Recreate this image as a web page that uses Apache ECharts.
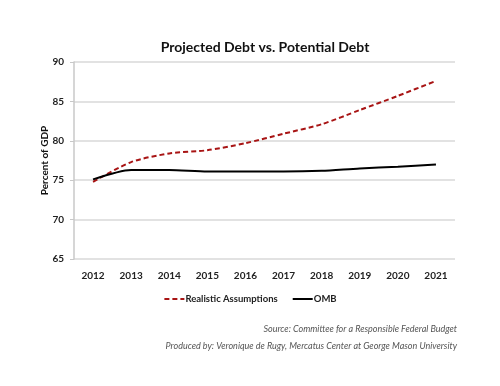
<!DOCTYPE html>
<html><head><meta charset="utf-8">
<script src="https://cdn.jsdelivr.net/npm/echarts@6/dist/echarts.min.js"></script>
<style>html,body{margin:0;padding:0;background:#fff}#c{width:500px;height:386px}</style>
</head><body><div id="c"></div>
<script>
const years = ['2012','2013','2014','2015','2016','2017','2018','2019','2020','2021'];
const realistic = [74.8, 77.3, 78.4, 78.8, 79.7, 80.9, 82.1, 83.9, 85.7, 87.6];
const omb = [75.1, 76.3, 76.3, 76.1, 76.1, 76.1, 76.2, 76.5, 76.7, 77.0];
const yTicks = [65, 70, 75, 80, 85, 90];
const FONT = 'Lato, "Open Sans", sans-serif';
const chart = echarts.init(document.getElementById('c'));
chart.setOption({
  backgroundColor: '#fff',
  animation: false,
  title: {
    text: 'Projected Debt vs. Potential Debt',
    left: 260, textAlign: 'center', top: 35,
    textStyle: { fontFamily: FONT, fontSize: 14, fontWeight: 'bold', color: '#111' }
  },
  grid: { left: 74, right: 45, top: 62, bottom: 127, containLabel: false },
  legend: {
    bottom: 77, left: 'center',
    itemWidth: 20, itemHeight: 10, itemGap: 14,
    itemStyle: { opacity: 0 },
    textStyle: { fontFamily: FONT, fontSize: 9.5, fontWeight: 'bold', color: '#222', padding: [0, 0, 0, -4] },
    data: ['Realistic Assumptions', 'OMB']
  },
  xAxis: {
    type: 'category', data: years, boundaryGap: true,
    axisLine: { show: false },
    axisTick: { show: false },
    axisLabel: { fontFamily: FONT, fontSize: 10, fontWeight: 'bold', color: '#222', margin: 12 }
  },
  yAxis: {
    type: 'value', min: yTicks[0], max: yTicks[yTicks.length-1], interval: 5,
    name: 'Percent of GDP', nameLocation: 'middle', nameGap: 24, nameMoveOverlap: false,
    nameTextStyle: { fontFamily: FONT, fontSize: 10, fontWeight: 'bold', color: '#111' },
    axisLine: { show: true, lineStyle: { color: '#c8c8c8', width: 1.5 } },
    axisTick: { show: true, length: 4, lineStyle: { color: '#c8c8c8' } },
    axisLabel: { fontFamily: FONT, fontSize: 10, fontWeight: 'bold', color: '#222', margin: 10 },
    splitLine: { lineStyle: { color: '#d9d9d9', width: 1.5 } }
  },
  series: [
    { name: 'Realistic Assumptions', type: 'line', data: realistic, smooth: 0.25,
      symbol: 'none', color: '#a81414',
      lineStyle: { color: '#a81414', width: 2, type: [5, 3] } },
    { name: 'OMB', type: 'line', data: omb, smooth: 0.25,
      symbol: 'none', color: '#000',
      lineStyle: { color: '#000', width: 2 } }
  ],
  graphic: [
    { type: 'text', right: 43, top: 325,
      style: { text: 'Source: Committee for a Responsible Federal Budget', fontFamily: FONT,
        fontSize: 9, fontStyle: 'italic', fill: '#555', textAlign: 'right' } },
    { type: 'text', right: 43, top: 342,
      style: { text: 'Produced by: Veronique de Rugy, Mercatus Center at George Mason University', fontFamily: FONT,
        fontSize: 9, fontStyle: 'italic', fill: '#555', textAlign: 'right' } }
  ]
});
</script></body></html>
